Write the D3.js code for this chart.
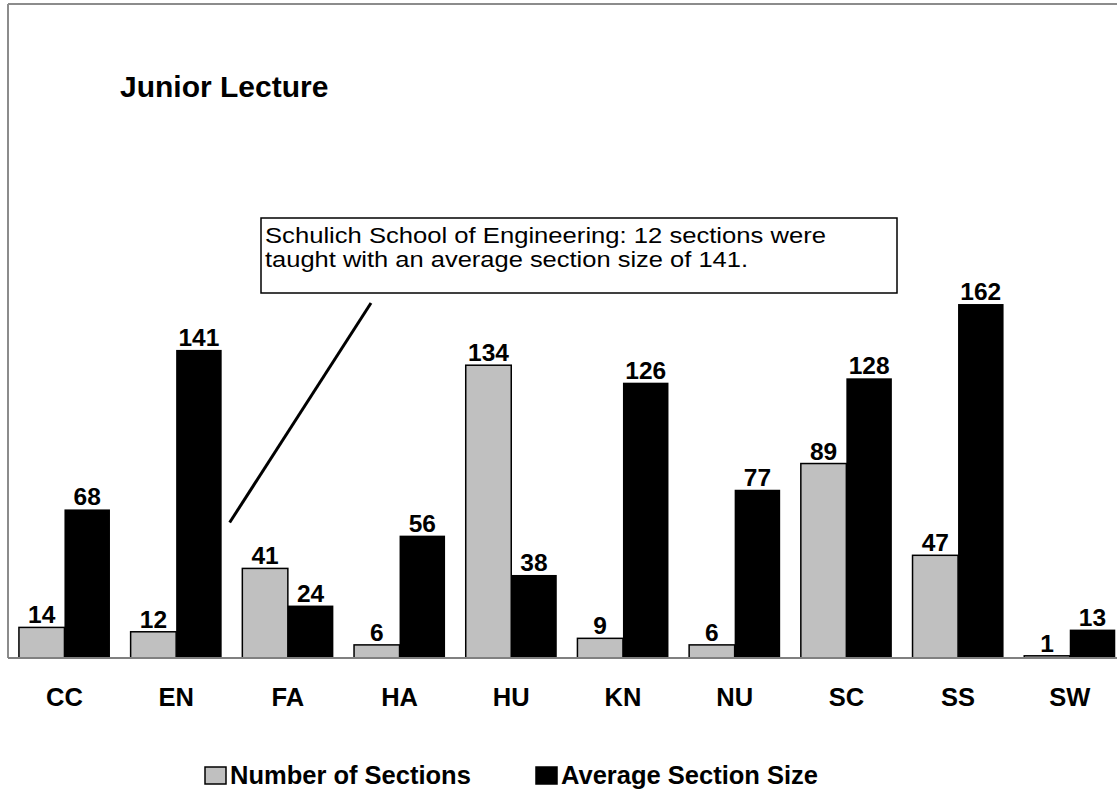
<!DOCTYPE html>
<html>
<head>
<meta charset="utf-8">
<script src="https://cdn.jsdelivr.net/npm/d3@7"></script>
<style>
  html, body { margin: 0; padding: 0; background: #fff; }
  svg { display: block; font-family: "Liberation Sans", Arial, sans-serif; }
</style>
</head>
<body>
<svg id="chart" width="1117" height="793"></svg>
<script>
// ---- Data ----
const title = "Junior Lecture";
const categories = ["CC", "EN", "FA", "HA", "HU", "KN", "NU", "SC", "SS", "SW"];
const seriesNames = ["Number of Sections", "Average Section Size"];
const numberOfSections = [14, 12, 41, 6, 134, 9, 6, 89, 47, 1];
const averageSectionSize = [68, 141, 24, 56, 38, 126, 77, 128, 162, 13];
const annotationLines = [
  "Schulich School of Engineering: 12 sections were",
  "taught with an average section size of 141."
];

const colors = ["#c0c0c0", "#000000"];

// ---- Layout ----
const svg = d3.select("#chart");
const W = 1117, H = 793;
const plotLeft = 8.6, step = 111.7;
const plotRight = plotLeft + step * categories.length;
const baseY = 658;
const unit = 2.185;

const x = d3.scaleBand()
  .domain(categories)
  .range([plotLeft, plotRight])
  .paddingInner(0.185)
  .paddingOuter(0.0925);

const xs = d3.scaleBand()
  .domain([0, 1])
  .range([0, x.bandwidth()]);

const y = d3.scaleLinear()
  .domain([0, 180])
  .range([baseY, baseY - 180 * unit]);

// outer border (top and left visible)
svg.append("line").attr("x1", 8).attr("x2", W).attr("y1", 4).attr("y2", 4)
  .attr("stroke", "#8c8c8c").attr("stroke-width", 2);
svg.append("line").attr("x1", 8).attr("x2", 8).attr("y1", 4).attr("y2", baseY)
  .attr("stroke", "#8c8c8c").attr("stroke-width", 2);

// title
svg.append("text")
  .attr("x", 120).attr("y", 97)
  .attr("font-size", 30).attr("font-weight", "bold")
  .text(title);

// bars
const rows = categories.map((c, i) => ({
  cat: c,
  vals: [numberOfSections[i], averageSectionSize[i]]
}));

const g = svg.append("g");
const groups = g.selectAll("g.grp").data(rows).join("g")
  .attr("class", "grp")
  .attr("transform", d => `translate(${x(d.cat)},0)`);

groups.selectAll("rect").data(d => d.vals.map((v, k) => ({ v, k }))).join("rect")
  .attr("x", d => xs(d.k))
  .attr("width", xs.bandwidth())
  .attr("y", d => y(d.v))
  .attr("height", d => baseY - y(d.v))
  .attr("fill", d => colors[d.k])
  .attr("stroke", "#000")
  .attr("stroke-width", d => d.k === 0 ? 1.5 : 0);

groups.selectAll("text.val").data(d => d.vals.map((v, k) => ({ v, k }))).join("text")
  .attr("class", "val")
  .attr("x", d => xs(d.k) + xs.bandwidth() / 2)
  .attr("y", d => y(d.v) - 4)
  .attr("text-anchor", "middle")
  .attr("font-size", 24.5).attr("font-weight", "bold")
  .text(d => d.v);

// baseline axis
svg.append("line").attr("x1", 8).attr("x2", W).attr("y1", baseY).attr("y2", baseY)
  .attr("stroke", "#808080").attr("stroke-width", 2);

// category labels
const xAxis = d3.axisBottom(x).tickSize(0).tickPadding(0);
const ax = svg.append("g").attr("transform", `translate(0,${baseY})`).call(xAxis);
ax.select(".domain").remove();
ax.selectAll("text")
  .attr("y", 48).attr("dy", 0)
  .attr("font-size", 25.5).attr("font-weight", "bold")
  .attr("font-family", "Liberation Sans, Arial, sans-serif")
  .attr("fill", "#000");

// annotation
const boxX = 261, boxY = 218, boxW = 636, boxH = 75;
const annotationWidths = [561, 483];
svg.append("line")
  .attr("x1", 371).attr("y1", 303)
  .attr("x2", x("EN") + x.bandwidth() + 8).attr("y2", y(62))
  .attr("stroke", "#000").attr("stroke-width", 3);
svg.append("rect")
  .attr("x", boxX).attr("y", boxY).attr("width", boxW).attr("height", boxH)
  .attr("fill", "#fff").attr("stroke", "#000").attr("stroke-width", 1.5);
svg.append("g").selectAll("text").data(annotationLines).join("text")
  .attr("x", boxX + 4)
  .attr("y", (d, i) => boxY + 25 + i * 24)
  .attr("font-size", 22.5)
  .attr("textLength", (d, i) => annotationWidths[i])
  .attr("lengthAdjust", "spacingAndGlyphs")
  .text(d => d);

// legend
const legendItems = [
  { name: seriesNames[0], color: colors[0], x: 205 },
  { name: seriesNames[1], color: colors[1], x: 536 }
];
const lg = svg.append("g").selectAll("g").data(legendItems).join("g")
  .attr("transform", d => `translate(${d.x},767)`);
lg.append("rect").attr("width", 21).attr("height", 17)
  .attr("fill", d => d.color).attr("stroke", "#000").attr("stroke-width", 1.5);
lg.append("text").attr("x", 25).attr("y", 17)
  .attr("font-size", 25.5).attr("font-weight", "bold")
  .text(d => d.name);
</script>
</body>
</html>
